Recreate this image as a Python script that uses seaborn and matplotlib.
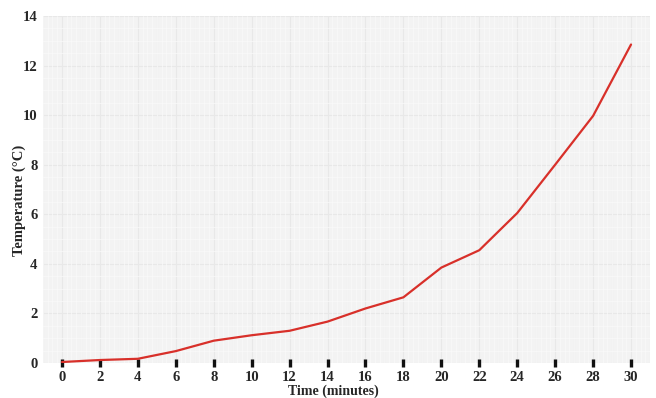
import numpy as np
import pandas as pd
import matplotlib
matplotlib.use("Agg")
import matplotlib.pyplot as plt
import seaborn as sns

# values
time_min = [0, 2, 4, 6, 8, 10, 12, 14, 16, 18, 20, 22, 24, 26, 28, 30]
temp_c = [0.04, 0.12, 0.17, 0.48, 0.9, 1.12, 1.3, 1.67, 2.2, 2.65,
          3.85, 4.55, 6.05, 8.0, 9.97, 12.85]
x_ticks = list(range(0, 31, 2))
y_ticks = list(range(0, 15, 2))

df = pd.DataFrame({"Time": time_min, "Temp": temp_c})

sns.set_style("white")
plt.rcParams["font.family"] = ["Liberation Serif", "DejaVu Serif"]

fig = plt.figure(figsize=(6.56, 3.98), dpi=100)
ax = fig.add_axes([43 / 656, 1 - 363 / 398, 607 / 656, 347 / 398])
ax.set_facecolor("#f3f3f3")

# fine background grid
ax.set_xticks(np.arange(-1, 31.01, 0.25), minor=True)
ax.set_yticks(np.arange(0, 14.01, 0.5), minor=True)
ax.grid(which="minor", color="#fafafa", linewidth=0.5)
for xv in np.arange(-1, 32, 1):
    ax.axvline(xv, color="#e8e8e8", linewidth=0.8, zorder=0)
for yv in y_ticks:
    ax.axhline(yv, color="#e8e8e8", linewidth=0.8, zorder=0)

sns.lineplot(data=df, x="Time", y="Temp", ax=ax, color="#d8302a", linewidth=1.6)

ax.set_xlim(-1, 31)
ax.set_ylim(0, 14)
ax.set_xticks(x_ticks)
ax.set_yticks(y_ticks)
ax.tick_params(axis="x", which="major", bottom=True, direction="inout",
               length=6, width=2.4, color="#111111", pad=2.5, labelsize=10.5)
ax.tick_params(axis="y", which="major", left=False, length=0, pad=4, labelsize=10.5)
ax.tick_params(which="minor", length=0, bottom=False, left=False)
for lab in ax.get_xticklabels() + ax.get_yticklabels():
    lab.set_fontweight("bold")

ax.set_xlabel("Time (minutes)", fontsize=10, fontweight="bold")
ax.xaxis.set_label_coords((333 - 43) / 607, -(398 - 363) / 347)
ax.xaxis.label.set_va("bottom")
ax.set_ylabel("Temperature (°C)", fontsize=10.5, fontweight="bold")
ax.yaxis.set_label_coords(-(43 - 19) / 607, (363 - 200) / 347)
ax.yaxis.label.set_va("center")
for s in ax.spines.values():
    s.set_visible(False)

fig.savefig("out.png", dpi=100)
